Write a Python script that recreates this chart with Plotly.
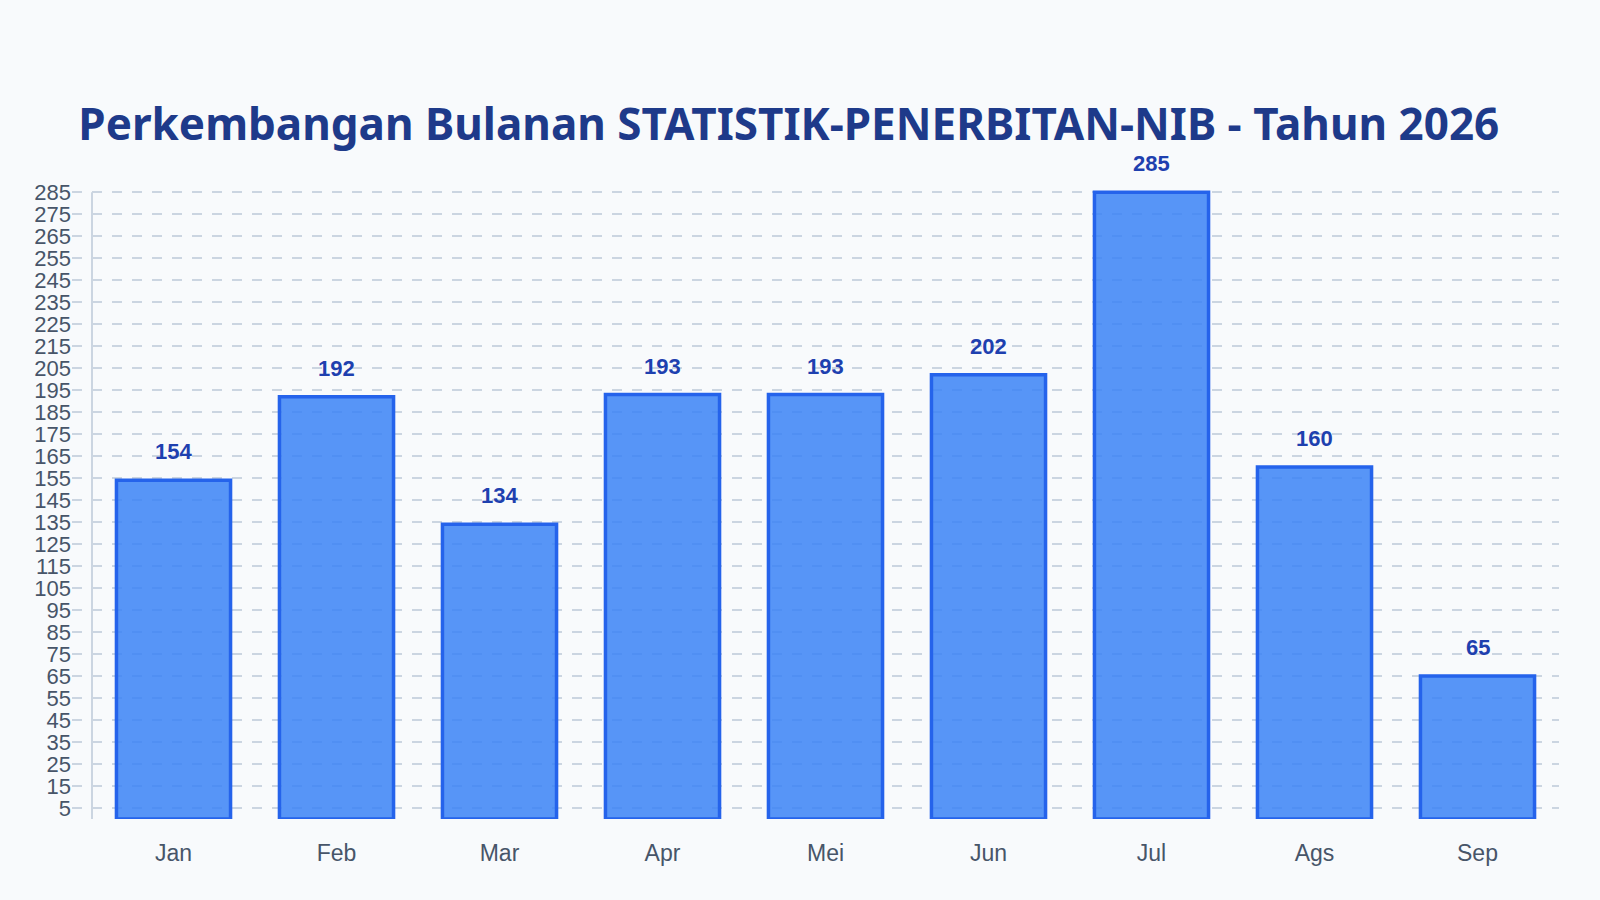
import plotly.graph_objects as go

# Monthly data
months = ["Jan", "Feb", "Mar", "Apr", "Mei", "Jun", "Jul", "Ags", "Sep"]
counts = [154, 192, 134, 193, 193, 202, 285, 160, 65]
y_ticks = list(range(5, 286, 10))

fig = go.Figure()

fig.add_trace(
    go.Bar(
        x=list(range(len(months))),
        y=counts,
        marker=dict(color="rgba(59,130,246,0.85)", line=dict(color="#2563eb", width=3.5)),
        width=0.7,
        hoverinfo="skip",
    )
)

# value labels above bars
for i, v in enumerate(counts):
    fig.add_annotation(
        x=i, y=v, text=str(v), showarrow=False,
        yanchor="bottom", yshift=14,
        font=dict(family="Liberation Sans, Arial", size=22, color="#1e40af", weight="bold"),
    )

# y axis line sits at the start of the first category slot
fig.add_shape(
    type="line", xref="x", yref="y", x0=-0.5, x1=-0.5, y0=0, y1=285,
    line=dict(color="#cbd5e1", width=2),
)

fig.update_layout(
    width=1600,
    height=900,
    paper_bgcolor="#f8fafc",
    plot_bgcolor="#f8fafc",
    margin=dict(l=72, r=41, t=190, b=81),
    showlegend=False,
    title=dict(
        text="Perkembangan Bulanan STATISTIK-PENERBITAN-NIB - Tahun 2026",
        x=0.493, xref="container", xanchor="center",
        y=1 - 125 / 900, yref="container", yanchor="middle",
        font=dict(family="Noto Sans", size=44, color="#1e3a8a", weight="bold"),
    ),
    xaxis=dict(
        range=[-0.5 - 20 / 163, 8.5],
        tickvals=list(range(len(months))),
        ticktext=months,
        showgrid=False,
        zeroline=False,
        showline=False,
        ticks="",
        ticklabelstandoff=18,
        tickfont=dict(family="Liberation Sans, Arial", size=23, color="#475569"),
    ),
    yaxis=dict(
        range=[0, 286],
        tickvals=y_ticks,
        showgrid=True,
        gridcolor="#cbd5e1",
        gridwidth=2,
        griddash="10px,10px",
        zeroline=False,
        showline=False,
        ticks="",
        tickfont=dict(family="Liberation Sans, Arial", size=22, color="#475569"),
    ),
)

fig.write_html(
    "out.html",
    config={"displayModeBar": False},
    post_script="document.body.style.margin='0';",
)
